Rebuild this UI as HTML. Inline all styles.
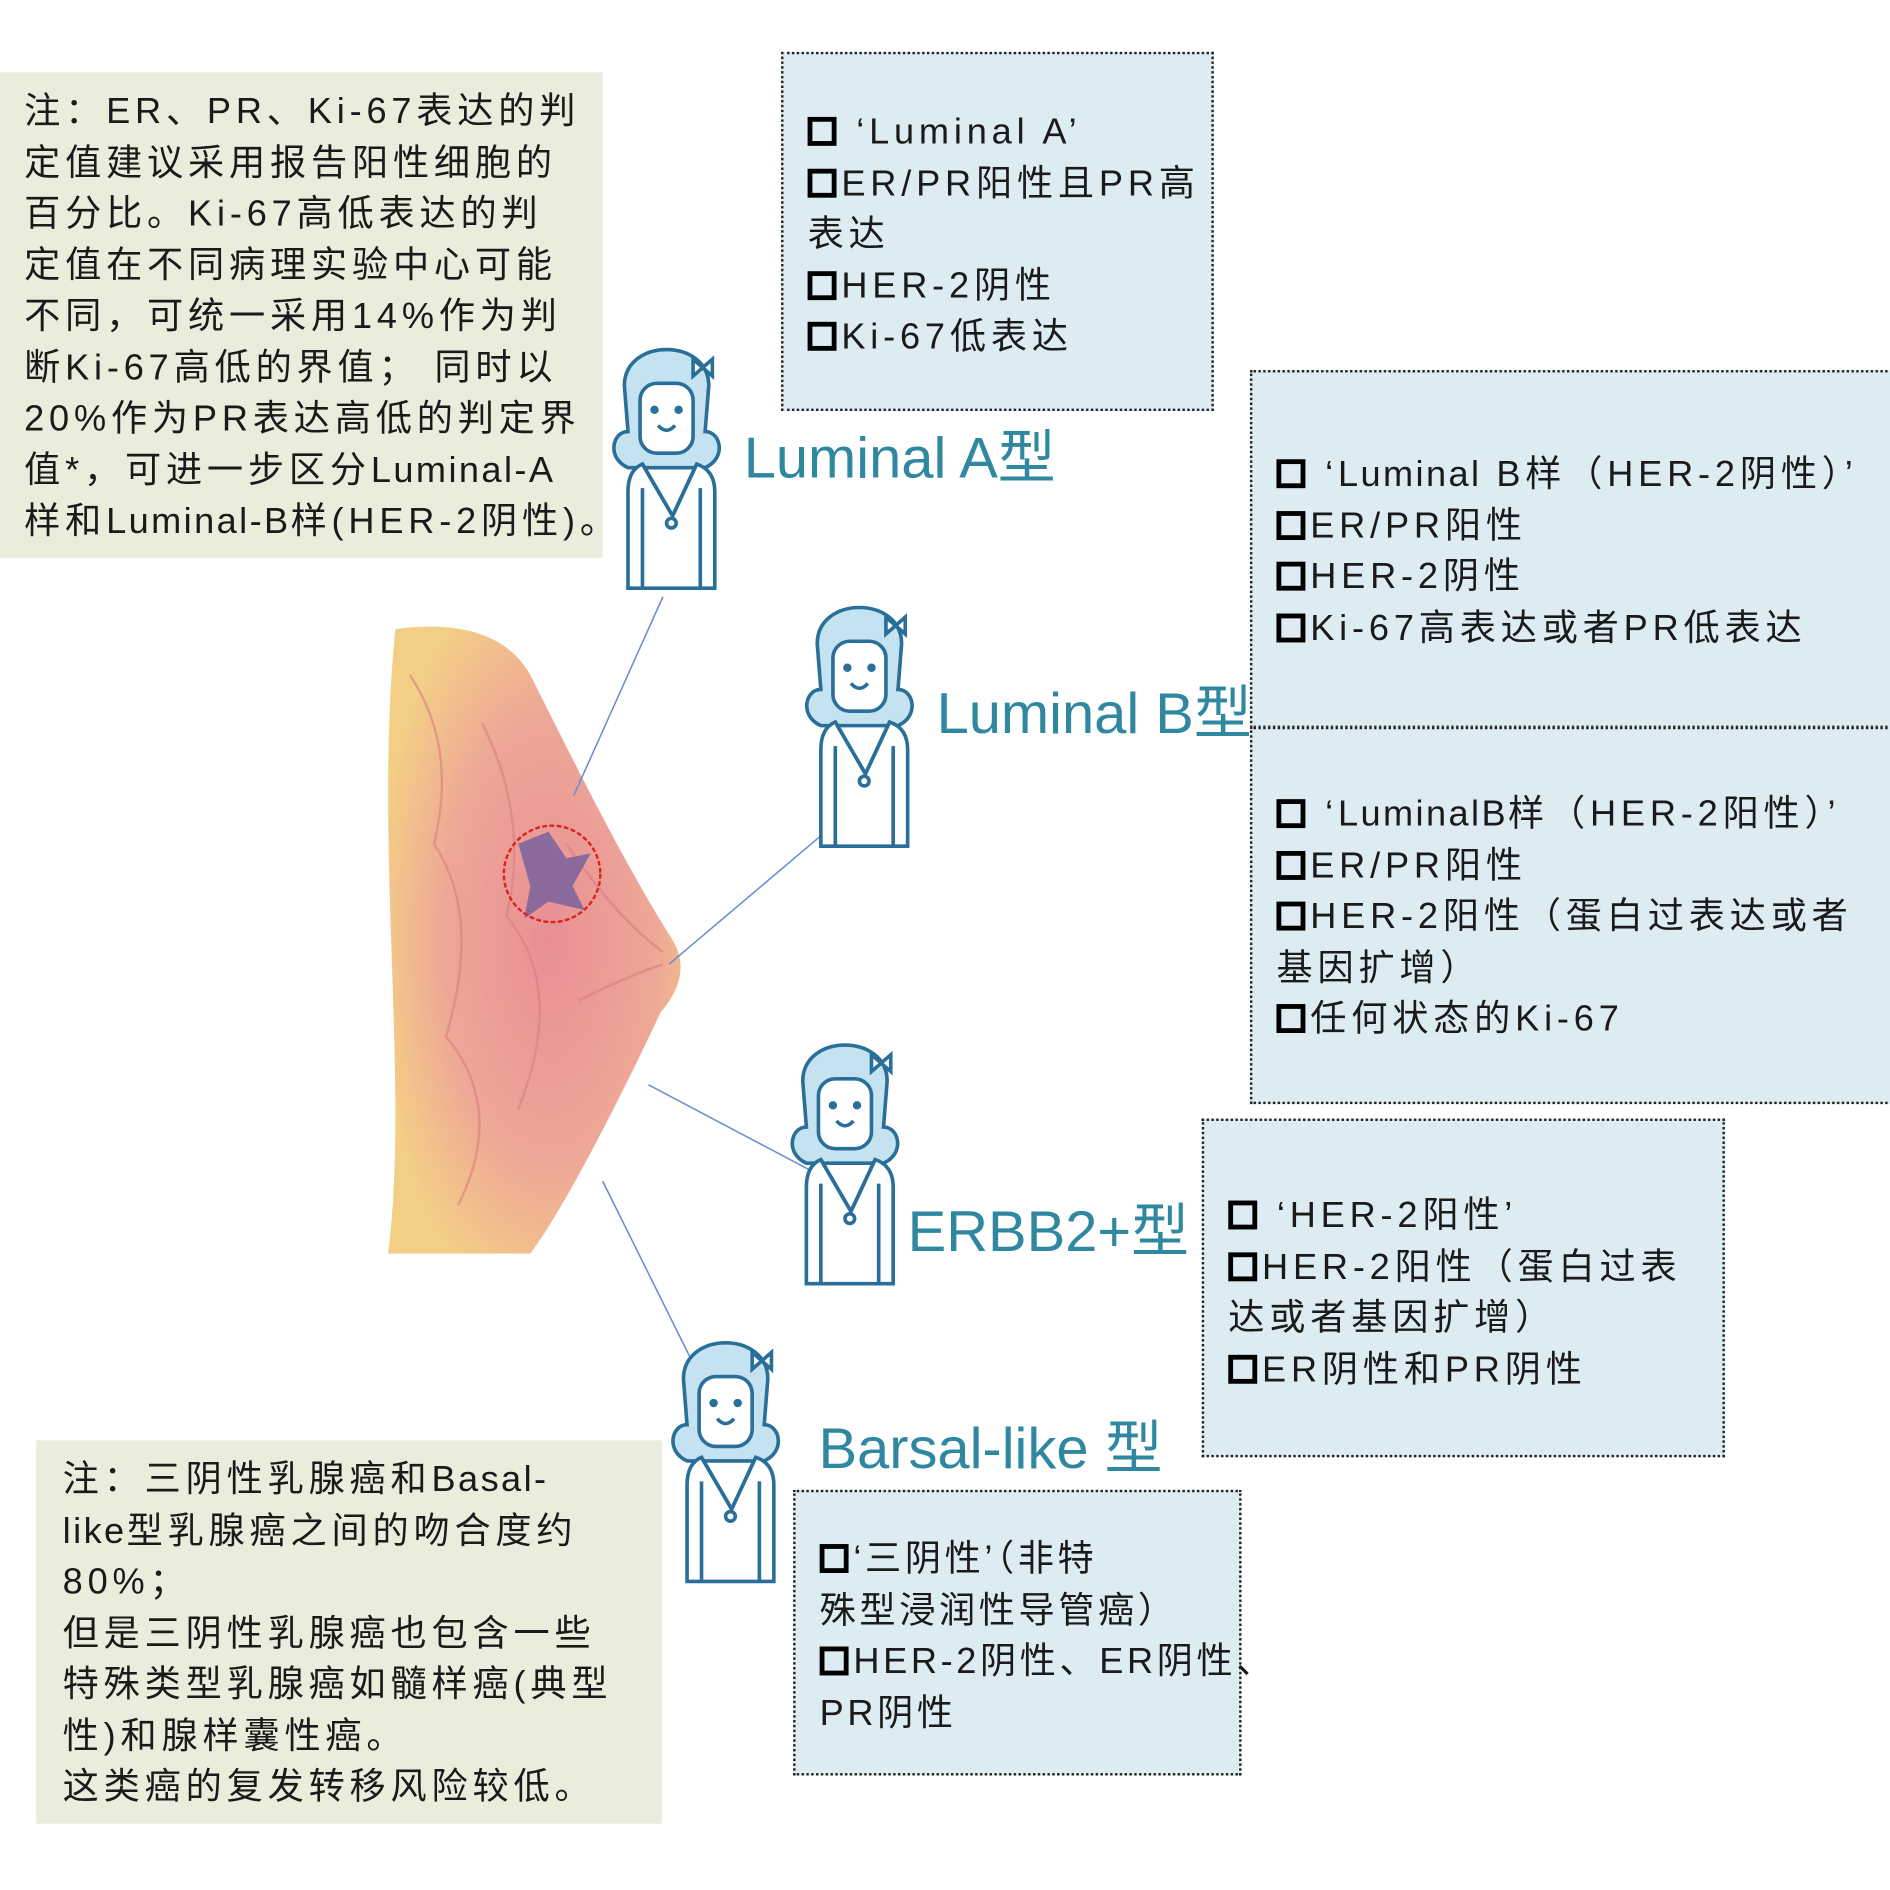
<!DOCTYPE html>
<html><head><meta charset="utf-8">
<style>
html,body{margin:0;padding:0;background:#fff;width:1890px;height:1890px;overflow:hidden}
#w{position:absolute;left:0;top:0;width:1568px;height:1568px;transform:scale(1.20536);transform-origin:0 0}
.a{position:absolute}
.t{font-family:"Liberation Sans","Noto Sans CJK SC",sans-serif;color:#1a1a1a;font-size:30px;letter-spacing:4px;line-height:42.5px;white-space:nowrap}
.l{letter-spacing:2px}
.box{background:#dcecf2;border:2.5px dotted #222;box-sizing:border-box}
.note{background:#e9eddc}
.cb{display:inline-block;width:16px;height:16px;border:4px solid #000;vertical-align:-2px;margin-right:4px}
.lab{font-family:"Liberation Sans","Noto Sans CJK SC",sans-serif;color:#2f87a0;font-size:48px;white-space:nowrap}
</style></head><body><div id="w">

<svg class="a" style="left:0;top:0" width="1568" height="1568">
<defs>
<radialGradient id="br" cx="0.55" cy="0.5" r="0.6">
<stop offset="0" stop-color="#e88f96"/><stop offset="0.6" stop-color="#eea796"/><stop offset="1" stop-color="#f3cf86"/></radialGradient>
<g id="girl">
<path d="M18 78 C5 78 0 100 18 108 L82 108 C100 100 95 78 82 78 L85 40 C85 0 15 0 15 40 Z" fill="#c4e2ef" stroke="#2a6f9a" stroke-width="3"/>
<rect x="28" y="38" width="44" height="58" rx="14" fill="#fff" stroke="#2a6f9a" stroke-width="3"/>
<circle cx="40" cy="60" r="3.5" fill="#2a6f9a"/><circle cx="60" cy="60" r="3.5" fill="#2a6f9a"/>
<path d="M43 73 Q50 81 57 73" fill="none" stroke="#2a6f9a" stroke-width="3"/>
<path d="M72 18 L72 32 L80 25 L88 32 L88 18 L80 25Z" fill="#fff" stroke="#2a6f9a" stroke-width="3"/>
<path d="M30 105 Q18 110 18 128 L18 208 L90 208 L90 128 Q90 110 75 105 L55 148 Z" fill="#fff" stroke="#2a6f9a" stroke-width="3"/>
<path d="M30 105 L55 148 L75 105 M30 125 L30 208 M78 125 L78 208" fill="none" stroke="#2a6f9a" stroke-width="3"/>
<circle cx="54" cy="154" r="4" fill="#fff" stroke="#2a6f9a" stroke-width="3"/>
</g></defs>
<path d="M328 522 C380 515 420 525 440 560 C480 640 520 720 558 780 C570 800 565 820 548 840 C520 900 470 1000 440 1040 L322 1040 C340 900 310 700 328 522Z" fill="url(#br)"/>
<g fill="none" stroke="#d87f80" stroke-width="2" opacity="0.6">
<path d="M340 560 Q380 620 360 700 Q400 760 370 860 Q420 920 380 1000"/>
<path d="M400 600 Q440 680 420 760 Q470 820 430 920"/>
<path d="M470 700 Q510 760 550 790 M480 830 Q520 810 550 800"/>
</g>
<path d="M430 700 L455 690 L470 712 L490 708 L475 735 L485 755 L455 748 L435 762 L440 735Z" fill="#8a6a9a"/>
<circle cx="458" cy="725" r="40" fill="none" stroke="#d22" stroke-width="2" stroke-dasharray="4 2"/>
<g stroke="#6a8fd0" stroke-width="1.3">
<line x1="550" y1="495" x2="476" y2="660"/><line x1="685" y1="690" x2="555" y2="800"/>
<line x1="538" y1="900" x2="680" y2="975"/><line x1="500" y1="980" x2="572" y2="1125"/>
</g>
<use href="#girl" transform="translate(503,280)"/>
<use href="#girl" transform="translate(663,494)"/>
<use href="#girl" transform="translate(651,857)"/>
<use href="#girl" transform="translate(552,1104)"/>
</svg>

<div class="a note t" style="left:0;top:60px;width:500px;height:403px;padding:12px 0 0 20px;box-sizing:border-box">注：ER、PR、Ki-67表达的判<br>定值建议采用报告阳性细胞的<br>百分比。Ki-67高低表达的判<br>定值在不同病理实验中心可能<br>不同，可统一采用14%作为判<br>断Ki-67高低的界值； 同时以<br>20%作为PR表达高低的判定界<br>值*，可进一步区分<span class="l">Luminal-A</span><br>样和<span class="l">Luminal-B</span>样(HER-2阴性)。</div>

<div class="a box t" style="left:648px;top:43px;width:359px;height:298px;padding:44px 0 0 20px">
<span class="cb"></span> ‘Luminal A’<br><span class="cb"></span>ER/PR阳性且PR高<br>表达<br><span class="cb"></span>HER-2阴性<br><span class="cb"></span>Ki-67低表达</div>

<div class="a box t" style="left:1037px;top:307px;width:540px;height:297px;padding:64px 0 0 20px">
<span class="cb"></span> ‘<span class="l">Luminal</span> B样（HER-2阴性）’<br><span class="cb"></span>ER/PR阳性<br><span class="cb"></span>HER-2阴性<br><span class="cb"></span>Ki-67高表达或者PR低表达</div>

<div class="a box t" style="left:1037px;top:603px;width:540px;height:313px;padding:50px 0 0 20px">
<span class="cb"></span> ‘<span class="l">LuminalB</span>样（HER-2阳性）’<br><span class="cb"></span>ER/PR阳性<br><span class="cb"></span>HER-2阳性（蛋白过表达或者<br>基因扩增）<br><span class="cb"></span>任何状态的Ki-67</div>

<div class="a box t" style="left:997px;top:928px;width:434px;height:281px;padding:58px 0 0 20px">
<span class="cb"></span> ‘HER-2阳性’<br><span class="cb"></span>HER-2阳性（蛋白过表<br>达或者基因扩增）<br><span class="cb"></span>ER阴性和PR阴性</div>

<div class="a box t" style="left:658px;top:1236px;width:372px;height:237px;padding:35px 0 0 20px;letter-spacing:3px">
<span class="cb"></span>‘三阴性’（非特<br>殊型浸润性导管癌）<br><span class="cb"></span>HER-2阴性、ER阴性、<br>PR阴性</div>

<div class="a note t" style="left:30px;top:1195px;width:519px;height:318px;padding:12px 0 0 22px;box-sizing:border-box">注：三阴性乳腺癌和<span class="l">Basal-</span><br><span class="l">like</span>型乳腺癌之间的吻合度约<br>80%；<br>但是三阴性乳腺癌也包含一些<br>特殊类型乳腺癌如髓样癌(典型<br>性)和腺样囊性癌。<br>这类癌的复发转移风险较低。</div>

<div class="a lab" style="left:617px;top:340px">Luminal A型</div>
<div class="a lab" style="left:777px;top:552px">Luminal B型</div>
<div class="a lab" style="left:753px;top:982px">ERBB2+型</div>
<div class="a lab" style="left:679px;top:1162px">Barsal-like 型</div>
</div></body></html>
